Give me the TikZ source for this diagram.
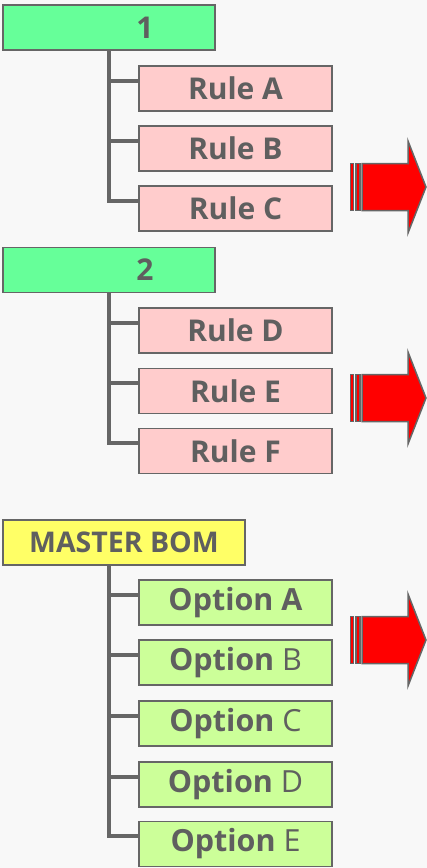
\documentclass[tikz,border=0pt]{standalone}
\usepackage{fontspec}
\setmainfont{Open Sans}
\definecolor{bg}{HTML}{F8F8F8}
\definecolor{edge}{HTML}{666666}
\definecolor{txt}{HTML}{5F5F5F}
\definecolor{topgreen}{HTML}{66FF99}
\definecolor{rulepink}{HTML}{FFCCCC}
\definecolor{masteryellow}{HTML}{FFFF66}
\definecolor{optgreen}{HTML}{CCFF99}
\definecolor{arrowred}{HTML}{FF0000}
\tikzset{
  box/.style={draw=edge, line width=1.5pt, inner sep=0pt, text=txt, font=\fontsize{30}{32}\selectfont\bfseries},
  topbox/.style={box, fill=topgreen, minimum width=212pt, minimum height=45pt},
  rulebox/.style={box, fill=rulepink, minimum width=193pt, minimum height=45pt},
  masterbox/.style={box, fill=masteryellow, minimum width=242pt, minimum height=45pt, font=\fontsize{28.5}{32}\selectfont\bfseries},
  optbox/.style={box, fill=optgreen, minimum width=193pt, minimum height=45pt, font=\fontsize{30.5}{32}\selectfont},
  conn/.style={draw=edge, line width=4pt},
  bigarrow/.style={fill=arrowred, draw=edge, line width=1.5pt, line join=miter},
  hook/.style={yshift=8pt},
}
\newcommand{\redarrow}[1]{%
  \begin{scope}[shift={(0,#1)}]
    \path[bigarrow] (350.5,-23.5) rectangle (353.5,23.5);
    \path[bigarrow] (356,-23.5) rectangle (360,23.5);
    \path[bigarrow] (362,-23.5) -- (408,-23.5) -- (408,-46) -- (426,0) -- (408,46) -- (408,23.5) -- (362,23.5) -- cycle;
  \end{scope}}
\begin{document}
\begin{tikzpicture}[x=1pt, y=-1pt]
\fill[bg] (0,0) rectangle (427,868);
\useasboundingbox (0,0) rectangle (427,868);

% group 1
\node[topbox] (g1) at (109,27.5) {\hspace*{72pt}\raisebox{-1.5pt}{1}};
\node[rulebox] (ra) at (235.5,88.5) {\raisebox{-1.5pt}{Rule A}};
\node[rulebox] (rb) at (235.5,148.5) {\raisebox{-1.5pt}{Rule B}};
\node[rulebox] (rc) at (235.5,208.5) {\raisebox{-1.5pt}{Rule C}};
\coordinate (ha) at ([hook]ra.west);
\coordinate (hb) at ([hook]rb.west);
\coordinate (hc) at ([hook]rc.west);
\draw[conn] (g1.south) |- (hc);
\draw[conn] (g1.south |- ha) -- (ha);
\draw[conn] (g1.south |- hb) -- (hb);
\redarrow{187}

% group 2
\node[topbox] (g2) at (109,270) {\hspace*{72pt}\raisebox{-1.5pt}{2}};
\node[rulebox] (rd) at (235.5,330.5) {\raisebox{-1.5pt}{Rule D}};
\node[rulebox] (re) at (235.5,391) {\raisebox{-1.5pt}{Rule E}};
\node[rulebox] (rf) at (235.5,451) {\raisebox{-1.5pt}{Rule F}};
\coordinate (hd) at ([hook]rd.west);
\coordinate (he) at ([hook]re.west);
\coordinate (hf) at ([hook]rf.west);
\draw[conn] (g2.south) |- (hf);
\draw[conn] (g2.south |- hd) -- (hd);
\draw[conn] (g2.south |- he) -- (he);
\redarrow{398}

% master
\node[masterbox] (m) at (124,542.5) {\raisebox{-1.5pt}{MASTER BOM}};
\coordinate (mt) at (109,565);
\node[optbox] (oa) at (235.5,602.5) {\raisebox{-1.5pt}{\textbf{Option A}}};
\node[optbox] (ob) at (235.5,662.5) {\raisebox{-1.5pt}{\textbf{Option} B}};
\node[optbox] (oc) at (235.5,723.5) {\raisebox{-1.5pt}{\textbf{Option} C}};
\node[optbox] (od) at (235.5,784.5) {\raisebox{-1.5pt}{\textbf{Option} D}};
\node[optbox] (oe) at (235.5,844) {\raisebox{-1.5pt}{\textbf{Option} E}};
\coordinate (hoa) at ([hook]oa.west);
\coordinate (hob) at ([hook]ob.west);
\coordinate (hoc) at ([hook]oc.west);
\coordinate (hod) at ([hook]od.west);
\coordinate (hoe) at ([hook]oe.west);
\draw[conn] (mt) |- (hoe);
\draw[conn] (mt |- hoa) -- (hoa);
\draw[conn] (mt |- hob) -- (hob);
\draw[conn] (mt |- hoc) -- (hoc);
\draw[conn] (mt |- hod) -- (hod);
\redarrow{640}
\end{tikzpicture}
\end{document}
